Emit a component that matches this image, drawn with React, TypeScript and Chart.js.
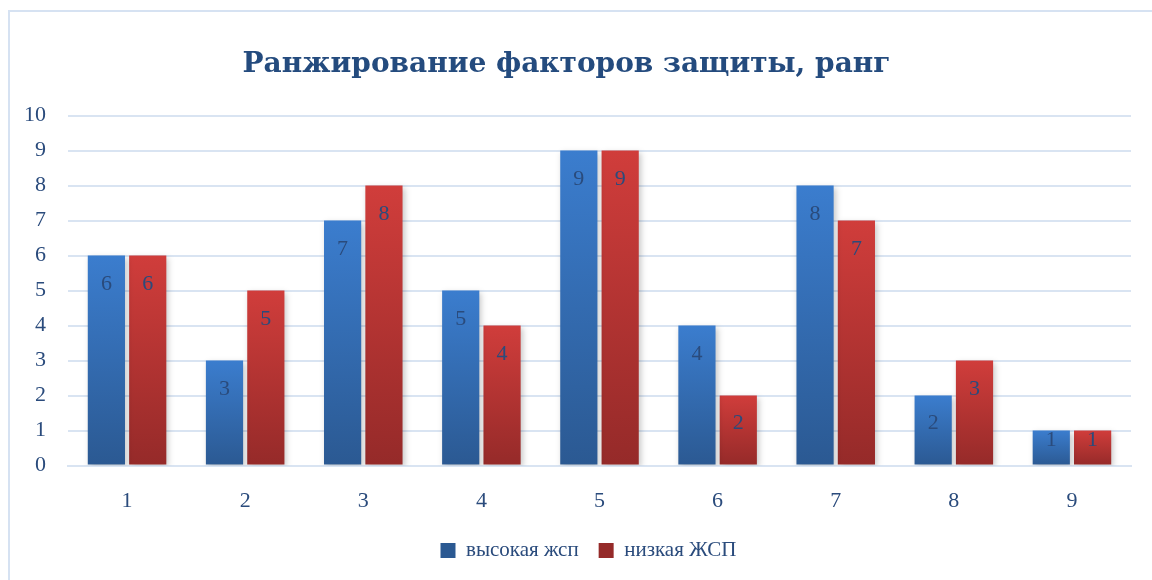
import React, { useEffect, useRef } from "react";
import { Chart, registerables } from "chart.js";

Chart.register(...registerables);

const categories = ["1", "2", "3", "4", "5", "6", "7", "8", "9"];
const highValues = [6, 3, 7, 5, 9, 4, 8, 2, 1];
const lowValues = [6, 5, 8, 4, 9, 2, 7, 3, 1];
const seriesNames = ["высокая жсп", "низкая ЖСП"];
const titleText = "Ранжирование факторов защиты, ранг";

const TEXT_COLOR = "#2a4b7c";
const GRID_COLOR = "#d9e4f2";

function gradientFill(top: string, bottom: string, mid: string) {
  return (ctx: any) => {
    if (ctx.type !== "data") return mid;
    const chart = ctx.chart;
    const y = chart.scales && chart.scales.y;
    if (!chart.chartArea || !y) return mid;
    const yTop = y.getPixelForValue(ctx.raw);
    const yBot = y.getPixelForValue(0);
    if (!isFinite(yTop) || !isFinite(yBot) || yTop === yBot) return mid;
    const g = chart.ctx.createLinearGradient(0, yTop, 0, yBot);
    g.addColorStop(0, top);
    g.addColorStop(1, bottom);
    return g;
  };
}

const shadowPlugin = {
  id: "barShadow",
  beforeDatasetsDraw(chart: any) {
    const c = chart.ctx;
    c.save();
    c.shadowColor = "rgba(0,0,0,0.22)";
    c.shadowBlur = 6;
    c.shadowOffsetX = 2;
    c.shadowOffsetY = 2;
  },
  afterDatasetsDraw(chart: any) {
    chart.ctx.restore();
  },
};

const legendShiftPlugin = {
  id: "legendShift",
  afterLayout(chart: any) {
    const lg = chart.legend;
    if (lg) {
      lg.left += 22;
      lg.right += 22;
    }
  },
};

const labelPlugin = {
  id: "barLabels",
  afterDatasetsDraw(chart: any) {
    const c = chart.ctx;
    c.save();
    c.shadowColor = "transparent";
    c.font = '22px "Liberation Serif", serif';
    c.fillStyle = TEXT_COLOR;
    c.textAlign = "center";
    c.textBaseline = "middle";
    chart.data.datasets.forEach((ds: any, di: number) => {
      const meta = chart.getDatasetMeta(di);
      meta.data.forEach((bar: any, i: number) => {
        const h = bar.base - bar.y;
        const off = Math.min(29, h / 2 - 7);
        c.fillText(String(ds.data[i]), bar.x, bar.y + off);
      });
    });
    c.restore();
  },
};

export default function App() {
  const ref = useRef<HTMLCanvasElement | null>(null);
  useEffect(() => {
    if (!ref.current) return;
    const chart = new Chart(ref.current, {
      type: "bar",
      data: {
        labels: categories,
        datasets: [
          {
            label: seriesNames[0],
            data: highValues,
            backgroundColor: gradientFill("#3b7dce", "#2b5992", "#356cb3"),
            categoryPercentage: 0.7,
            barPercentage: 0.9,
          },
          {
            label: seriesNames[1],
            data: lowValues,
            backgroundColor: gradientFill("#d03d3b", "#952a29", "#bb3533"),
            categoryPercentage: 0.7,
            barPercentage: 0.9,
          },
        ],
      },
      options: {
        animation: false,
        responsive: true,
        maintainAspectRatio: false,
        layout: { padding: { left: 2, right: 11, top: 0, bottom: 9 } },
        plugins: {
          title: {
            display: true,
            text: titleText,
            color: "#244b7e",
            font: { family: '"DejaVu Serif", serif', size: 28, weight: "bold" },
            padding: { top: 36, bottom: 34 },
          },
          legend: {
            position: "bottom",
            labels: {
              color: TEXT_COLOR,
              font: { family: '"Liberation Serif", serif', size: 21 },
              boxWidth: 15,
              boxHeight: 15,
              padding: 20,
            },
          },
          tooltip: { enabled: false },
        },
        scales: {
          x: {
            grid: { display: false, drawTicks: false },
            border: { display: true, color: GRID_COLOR, width: 2 },
            ticks: {
              color: TEXT_COLOR,
              font: { family: '"Liberation Serif", serif', size: 22 },
              padding: 22,
            },
            afterFit: (scale: any) => {
              scale.height -= 16;
            },
          },
          y: {
            min: 0,
            max: 10,
            grid: { color: GRID_COLOR, lineWidth: 2, drawTicks: false },
            border: { display: false },
            ticks: {
              stepSize: 1,
              color: TEXT_COLOR,
              font: { family: '"Liberation Serif", serif', size: 22 },
              padding: 22,
            },
          },
        },
      },
      plugins: [shadowPlugin, labelPlugin, legendShiftPlugin],
    });
    return () => chart.destroy();
  }, []);

  return (
    <div
      style={{
        position: "fixed",
        left: 8,
        top: 10,
        width: 1170,
        height: 600,
        border: "2px solid #d6e2f2",
        boxSizing: "border-box",
        background: "#fff",
      }}
    >
      <div style={{ position: "relative", marginLeft: -10, width: 1142, height: 568 }}>
        <canvas ref={ref} />
      </div>
    </div>
  );
}
